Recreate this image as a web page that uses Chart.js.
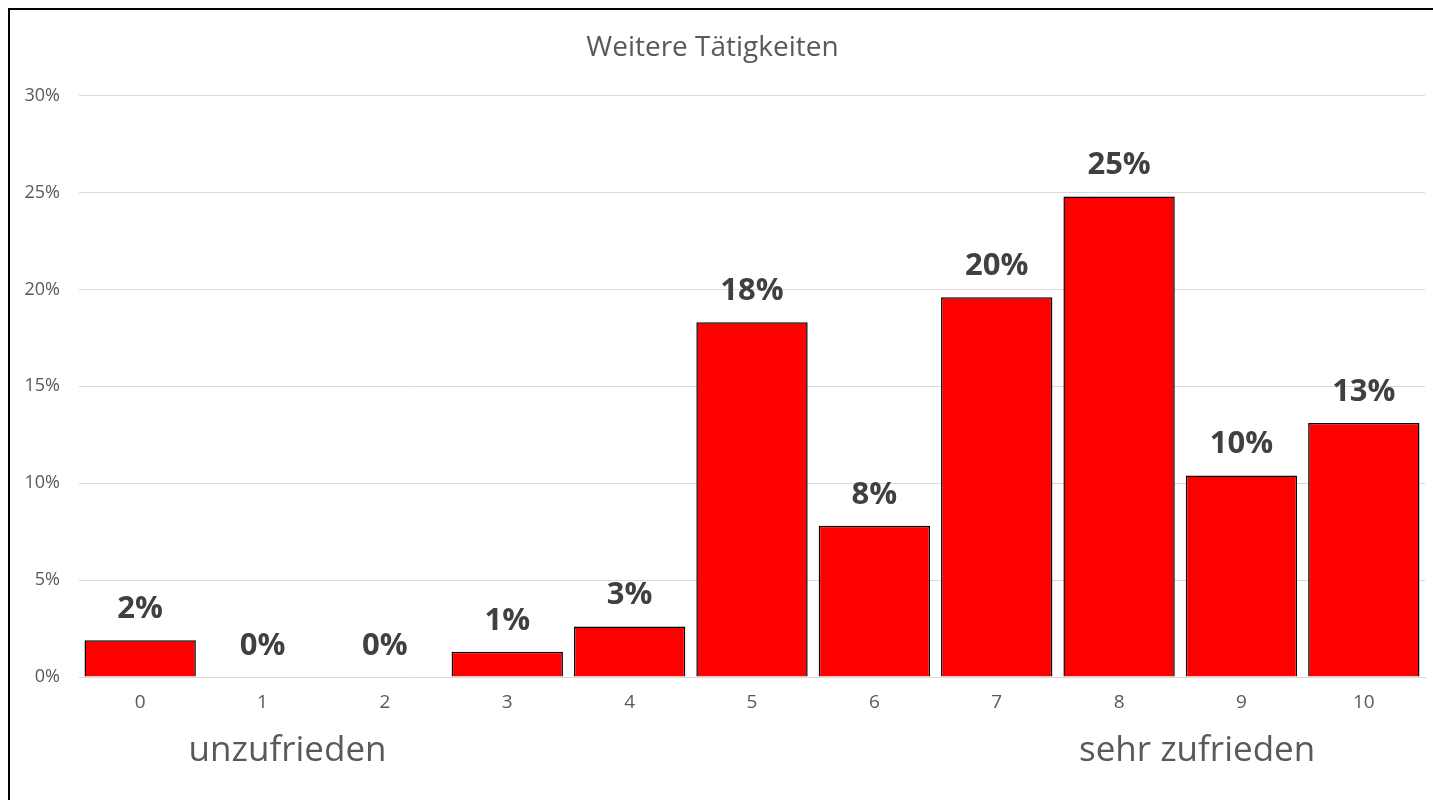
<!DOCTYPE html>
<html>
<head>
<meta charset="utf-8">
<script src="https://cdn.jsdelivr.net/npm/chart.js@4"></script>
<style>
  html, body { margin: 0; padding: 0; background: #fff; overflow: hidden; }
  #wrap { position: relative; width: 1433px; height: 800px; }
  #rahmen { position: absolute; left: 8px; top: 8px; width: 1500px; height: 900px; border: 2px solid #000; }
  canvas { position: absolute; left: 0; top: 0; }
</style>
</head>
<body>
<div id="wrap">
  <div id="rahmen"></div>
  <canvas id="grafico" width="1433" height="800"></canvas>
</div>
<script>
/**********************************************
 *
 * Weitere Taetigkeiten - Zufriedenheit 0..10
 *
 * ****************************************/

var kategorien = ['0', '1', '2', '3', '4', '5', '6', '7', '8', '9', '10'];
var anteile = [1.9, 0, 0, 1.3, 2.6, 18.3, 7.8, 19.6, 24.8, 10.4, 13.1];
var achsenTexte = ['unzufrieden', 'sehr zufrieden'];
var grau = '#595959';
var schrift = "'Open Sans', 'Liberation Sans', sans-serif";

Chart.defaults.font.family = schrift;
Chart.defaults.color = grau;

// Prozentwerte ueber den Balken + Texte unter der Achse
var beschriftung = {
	id: 'beschriftung',
	afterDatasetsDraw: function (chart) {
		var ctx = chart.ctx;
		var meta = chart.getDatasetMeta(0);
		ctx.save();
		ctx.fillStyle = '#404040';
		ctx.font = 'bold 31px ' + schrift;
		ctx.textAlign = 'center';
		ctx.textBaseline = 'middle';
		meta.data.forEach(function (bar, i) {
			ctx.fillText(Math.round(anteile[i]) + '%', bar.x, bar.y - 31);
		});

		// unzufrieden / sehr zufrieden
		var x = chart.scales.x;
		ctx.fillStyle = grau;
		ctx.font = '35px ' + schrift;
		ctx.fillText(achsenTexte[0], x.getPixelForValue(1) + 25, 751);
		ctx.fillText(achsenTexte[1], x.getPixelForValue(8) + 78, 751);
		ctx.restore();
	}
};

var ctx = document.getElementById('grafico').getContext('2d');

var chart = new Chart(ctx, {
	type: 'bar',
	data: {
		labels: kategorien,
		datasets: [{
			data: anteile,
			backgroundColor: '#ff0000',
			borderColor: '#000000',
			borderWidth: 1.5,
			barPercentage: 0.91,
			categoryPercentage: 1
		}]
	},
	plugins: [beschriftung],
	options: {
		responsive: false,
		animation: false,
		layout: {
			padding: { left: 0, right: 8, top: 31, bottom: 0 }
		},
		plugins: {
			legend: { display: false },
			tooltip: { enabled: false },
			title: {
				display: true,
				text: 'Weitere Tätigkeiten',
				color: grau,
				font: { family: schrift, size: 28, weight: 'normal', lineHeight: 1.2 },
				padding: { top: 0, bottom: 31 }
			}
		},
		scales: {
			y: {
				min: 0,
				max: 30,
				ticks: {
					stepSize: 5,
					color: grau,
					font: { family: schrift, size: 18 },
					padding: 19,
					callback: function (v) { return v + '%'; }
				},
				grid: { color: '#d9d9d9', drawTicks: false },
				border: { display: false },
				afterFit: function (s) { s.width = 79; }
			},
			x: {
				ticks: {
					color: grau,
					font: { family: schrift, size: 19 },
					padding: 14
				},
				grid: { display: false, drawTicks: false },
				border: { color: '#d9d9d9', width: 1 },
				afterFit: function (s) { s.height = 123; }
			}
		}
	}
});
</script>
</body>
</html>
